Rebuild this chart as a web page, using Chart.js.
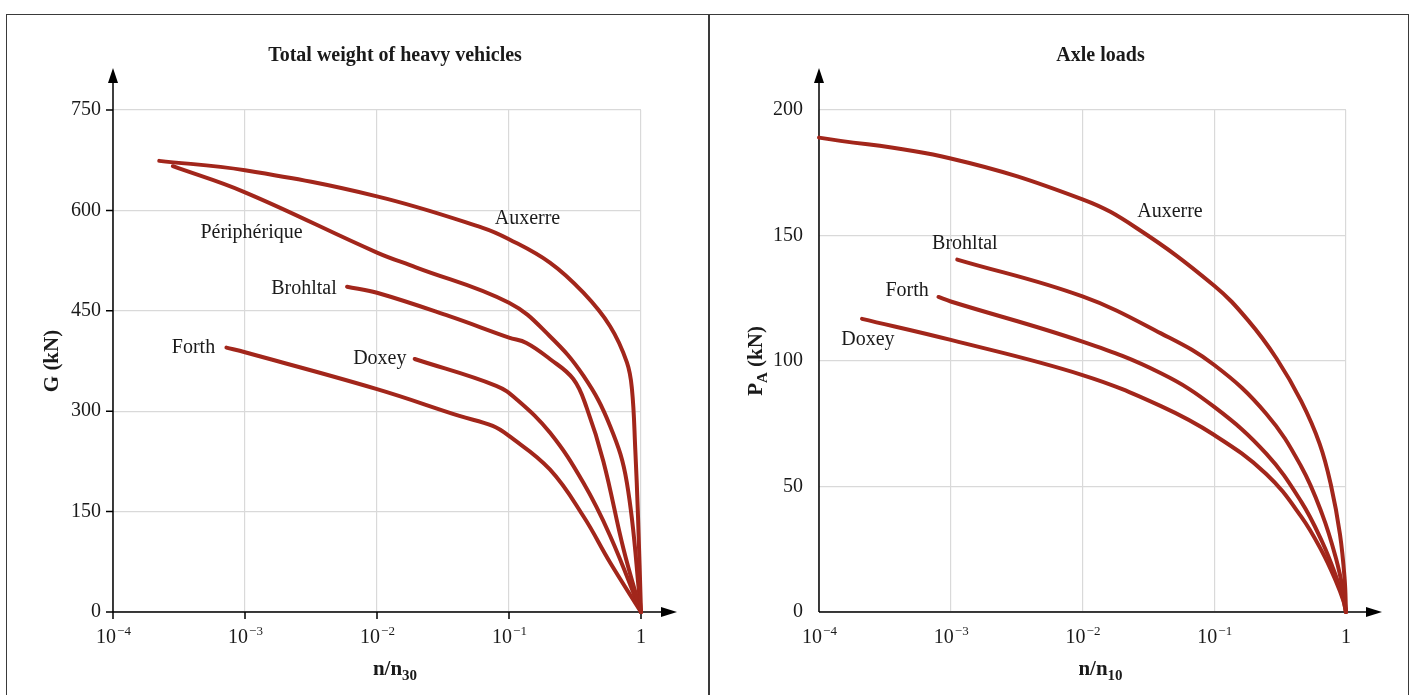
<!DOCTYPE html>
<html lang="en">
<head>
    <meta charset="UTF-8">
    <title>Total weight and axle loads</title>
    <script src="https://cdn.jsdelivr.net/npm/chart.js"></script>
    <style>
        body {
            margin: 0;
            background: #fff;
            font-family: "Liberation Serif", serif;
        }
        #frame {
            position: absolute;
            left: 6px;
            top: 14px;
            width: 1403px;
            height: 700px;
            border: 1.5px solid #3a3a3a;
            box-sizing: border-box;
        }
        #divider {
            position: absolute;
            left: 708px;
            top: 14px;
            width: 1.5px;
            height: 700px;
            background: #3a3a3a;
        }
        canvas { position: absolute; top: 15px; }
        #weightChart { left: 7px; }
        #axleChart { left: 710px; }
    </style>
</head>
<body>
    <div id="frame"></div>
    <div id="divider"></div>
    <canvas id="weightChart" width="701" height="680"></canvas>
    <canvas id="axleChart" width="699" height="680"></canvas>

    <script>
        // ---- total weight of heavy vehicles, G (kN) vs n/n30 ----
        const gAuxerreX = [2.24e-4, 1e-3, 1e-2, 0.0632, 0.1, 0.204, 0.366, 0.583, 0.782, 0.854, 0.905, 0.949, 1];
        const gAuxerreY = [674, 660, 621, 574, 557, 522, 477, 427, 373, 333, 243, 143, 0];
        const gPeriphX = [2.84e-4, 1e-3, 1e-2, 0.0197, 0.1, 0.204, 0.366, 0.583, 0.782, 1];
        const gPeriphY = [666, 627, 537, 515, 462, 412, 353, 278, 193, 0];
        const gBrohltalX = [5.93e-3, 1e-2, 0.0353, 0.1, 0.1355, 0.204, 0.307, 0.388, 0.519, 0.737, 1];
        const gBrohltalY = [486, 477, 442, 410, 402, 378, 348, 305, 225, 94, 0];
        const gDoxeyX = [0.0193, 0.08, 0.1138, 0.204, 0.366, 0.583, 1];
        const gDoxeyY = [378, 338, 318, 268, 193, 114, 0];
        const gForthX = [7.23e-4, 1e-3, 1e-2, 0.0421, 0.0753, 0.1, 0.204, 0.366, 0.583, 1];
        const gForthY = [395, 388, 333, 293, 278, 263, 213, 143, 74, 0];

        const gTicksY = [0, 150, 300, 450, 600, 750];
        const gLabels = [
            ['Auxerre', 0.138, 588],
            ['Périphérique', 1.12e-3, 567],
            ['Brohltal', 2.8e-3, 483],
            ['Forth', 4.07e-4, 395],
            ['Doxey', 1.05e-2, 379]
        ];

        // ---- axle loads, P_A (kN) vs n/n10 ----
        const pAuxerreX = [1e-4, 1e-3, 1e-2, 0.0257, 0.1, 0.182, 0.297, 0.457, 0.631, 0.769, 0.9, 0.977, 1];
        const pAuxerreY = [189, 180.7, 164.4, 153, 130, 116, 101, 84, 67, 50.5, 31, 13, 0];
        const pBrohltalX = [1.12e-3, 1e-2, 0.0394, 0.1, 0.248, 0.457, 0.659, 0.843, 0.955, 1];
        const pBrohltalY = [140.4, 125.7, 111, 98.4, 79, 58, 39, 21, 8, 0];
        const pForthX = [8.07e-4, 1e-3, 1e-2, 0.0394, 0.1, 0.248, 0.457, 0.659, 0.843, 0.955, 1];
        const pForthY = [125.5, 123.7, 107.7, 95.1, 81.7, 63.1, 44, 28, 14, 5, 0];
        const pDoxeyX = [2.12e-4, 1e-3, 1e-2, 0.0394, 0.1, 0.248, 0.457, 0.659, 0.843, 0.955, 1];
        const pDoxeyY = [116.8, 108.4, 94.4, 82, 70.5, 55, 38, 24, 12, 4.5, 0];

        const pTicksY = [0, 50, 100, 150, 200];
        const pLabels = [
            ['Auxerre', 0.0461, 159.4],
            ['Brohltal', 1.28e-3, 146.6],
            ['Forth', 4.66e-4, 127.9],
            ['Doxey', 2.35e-4, 108.4]
        ];

        const decadeTicks = [1e-4, 1e-3, 1e-2, 1e-1, 1];

        const RED = '#a2261b';
        const FONT = '"Liberation Serif", serif';

        function series(xs, ys) {
            return {
                data: xs.map((x, i) => ({ x: x, y: ys[i] })),
                borderColor: RED,
                borderWidth: 4,
                borderCapStyle: 'round',
                borderJoinStyle: 'round',
                pointRadius: 0,
                tension: 0.4,
                clip: false
            };
        }

        // draw "10^-n" (or "1") centred at x
        function drawPower(ctx, exp, x, y) {
            ctx.textBaseline = 'alphabetic';
            ctx.font = '20px ' + FONT;
            if (exp === 0) {
                ctx.textAlign = 'center';
                ctx.fillText('1', x, y);
                return;
            }
            const w1 = ctx.measureText('10').width;
            const sup = '\u2212' + Math.abs(exp);
            ctx.font = '13px ' + FONT;
            const w2 = ctx.measureText(sup).width;
            const start = x - (w1 + w2) / 2;
            ctx.textAlign = 'left';
            ctx.font = '20px ' + FONT;
            ctx.fillText('10', start, y);
            ctx.font = '13px ' + FONT;
            ctx.fillText(sup, start + w1 + 1, y - 8);
        }

        function makeChart(id, cfg) {
            const axesPlugin = {
                id: 'axes',
                beforeDatasetsDraw(chart) {
                    const ctx = chart.ctx;
                    const a = chart.chartArea;
                    ctx.save();
                    ctx.strokeStyle = '#000';
                    ctx.fillStyle = '#000';
                    ctx.lineWidth = 1.5;
                    ctx.beginPath();
                    ctx.moveTo(a.left, a.bottom);
                    ctx.lineTo(a.left, a.top - 32);
                    ctx.moveTo(a.left, a.bottom);
                    ctx.lineTo(a.right + 22, a.bottom);
                    if (cfg.tickMarks) {
                        cfg.yTicks.forEach(v => {
                            const y = chart.scales.y.getPixelForValue(v);
                            ctx.moveTo(a.left - 7, y);
                            ctx.lineTo(a.left, y);
                        });
                        decadeTicks.forEach(v => {
                            const x = chart.scales.x.getPixelForValue(v);
                            ctx.moveTo(x, a.bottom);
                            ctx.lineTo(x, a.bottom + 7);
                        });
                    }
                    ctx.stroke();
                    // arrow heads
                    ctx.beginPath();
                    ctx.moveTo(a.left, a.top - 42);
                    ctx.lineTo(a.left - 5, a.top - 27);
                    ctx.lineTo(a.left + 5, a.top - 27);
                    ctx.closePath();
                    ctx.fill();
                    ctx.beginPath();
                    ctx.moveTo(a.right + 36, a.bottom);
                    ctx.lineTo(a.right + 20, a.bottom - 5);
                    ctx.lineTo(a.right + 20, a.bottom + 5);
                    ctx.closePath();
                    ctx.fill();
                    ctx.restore();
                },
                afterDraw(chart) {
                    const ctx = chart.ctx;
                    const a = chart.chartArea;
                    const xs = chart.scales.x, ys = chart.scales.y;
                    const midX = (a.left + a.right + 36) / 2;
                    ctx.save();
                    ctx.fillStyle = '#1a1a1a';

                    // y tick labels
                    ctx.font = '20px ' + FONT;
                    ctx.textAlign = 'right';
                    ctx.textBaseline = 'middle';
                    cfg.yTicks.forEach(v => {
                        ctx.fillText(String(v), a.left - cfg.yGap, ys.getPixelForValue(v));
                    });
                    // x tick labels
                    decadeTicks.forEach(v => {
                        drawPower(ctx, Math.round(Math.log10(v)), xs.getPixelForValue(v), a.bottom + 31);
                    });

                    // title
                    ctx.font = 'bold 20px ' + FONT;
                    ctx.textAlign = 'center';
                    ctx.textBaseline = 'alphabetic';
                    ctx.fillText(cfg.title, midX, 46);

                    // x axis title with subscript
                    ctx.font = 'bold 21px ' + FONT;
                    const wMain = ctx.measureText('n/n').width;
                    ctx.font = 'bold 15px ' + FONT;
                    const wSub = ctx.measureText(cfg.xSub).width;
                    let sx = midX - (wMain + wSub) / 2;
                    ctx.textAlign = 'left';
                    ctx.font = 'bold 21px ' + FONT;
                    ctx.fillText('n/n', sx, a.bottom + 63);
                    ctx.font = 'bold 15px ' + FONT;
                    ctx.fillText(cfg.xSub, sx + wMain, a.bottom + 68);

                    // y axis title, rotated
                    ctx.save();
                    ctx.translate(cfg.yTitleX, (a.top + a.bottom) / 2);
                    ctx.rotate(-Math.PI / 2);
                    const parts = cfg.yTitle;
                    let total = 0;
                    parts.forEach(p => {
                        ctx.font = (p.sub ? 'bold 15px ' : 'bold 21px ') + FONT;
                        total += ctx.measureText(p.t).width;
                    });
                    let px = -total / 2;
                    parts.forEach(p => {
                        ctx.font = (p.sub ? 'bold 15px ' : 'bold 21px ') + FONT;
                        ctx.fillText(p.t, px, p.sub ? 12 : 7);
                        px += ctx.measureText(p.t).width;
                    });
                    ctx.restore();

                    // curve labels
                    ctx.font = '20px ' + FONT;
                    ctx.textAlign = 'center';
                    ctx.textBaseline = 'middle';
                    cfg.labels.forEach(l => {
                        ctx.fillText(l[0], xs.getPixelForValue(l[1]), ys.getPixelForValue(l[2]));
                    });
                    ctx.restore();
                }
            };

            return new Chart(document.getElementById(id), {
                type: 'line',
                data: { datasets: cfg.datasets },
                options: {
                    responsive: false,
                    animation: false,
                    events: [],
                    layout: { padding: { top: 95, right: cfg.padRight, left: 0, bottom: 0 } },
                    plugins: { legend: { display: false }, tooltip: { enabled: false } },
                    scales: {
                        x: {
                            type: 'logarithmic',
                            min: 1e-4,
                            max: 1,
                            afterBuildTicks: s => { s.ticks = decadeTicks.map(v => ({ value: v })); },
                            afterFit: s => { s.height = 83; },
                            ticks: { display: false },
                            grid: { color: '#d9d9d9', lineWidth: 1.2, drawTicks: false },
                            border: { display: false }
                        },
                        y: {
                            min: 0,
                            max: cfg.yTicks[cfg.yTicks.length - 1],
                            afterBuildTicks: s => { s.ticks = cfg.yTicks.map(v => ({ value: v })); },
                            afterFit: s => { s.width = cfg.leftPx; },
                            ticks: { display: false },
                            grid: { color: '#d9d9d9', lineWidth: 1.2, drawTicks: false },
                            border: { display: false }
                        }
                    }
                },
                plugins: [axesPlugin]
            });
        }

        makeChart('weightChart', {
            title: 'Total weight of heavy vehicles',
            xSub: '30',
            yTitle: [{ t: 'G (kN)' }],
            yTitleX: 44,
            yGap: 12,
            yTicks: gTicksY,
            labels: gLabels,
            tickMarks: true,
            leftPx: 106,
            padRight: 67,
            datasets: [
                series(gAuxerreX, gAuxerreY),
                series(gPeriphX, gPeriphY),
                series(gBrohltalX, gBrohltalY),
                series(gDoxeyX, gDoxeyY),
                series(gForthX, gForthY)
            ]
        });

        makeChart('axleChart', {
            title: 'Axle loads',
            xSub: '10',
            yTitle: [{ t: 'P' }, { t: 'A', sub: true }, { t: ' (kN)' }],
            yTitleX: 45,
            yGap: 16,
            yTicks: pTicksY,
            labels: pLabels,
            tickMarks: false,
            leftPx: 109,
            padRight: 63,
            datasets: [
                series(pAuxerreX, pAuxerreY),
                series(pBrohltalX, pBrohltalY),
                series(pForthX, pForthY),
                series(pDoxeyX, pDoxeyY)
            ]
        });
    </script>
</body>
</html>
